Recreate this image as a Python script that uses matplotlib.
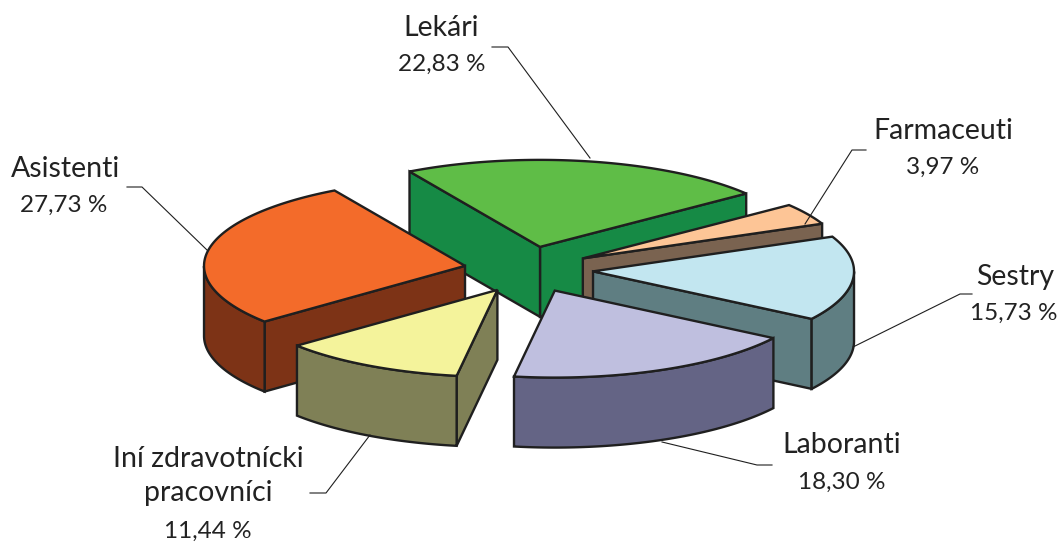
import numpy as np
import matplotlib
matplotlib.use("Agg")
import matplotlib.pyplot as plt
from matplotlib.patches import Polygon

# --- data ---
categories = ["Lekári", "Farmaceuti", "Sestry", "Laboranti", "Iní zdravotnícki\npracovníci", "Asistenti"]
values = [22.83, 3.97, 15.73, 18.30, 11.44, 27.73]
value_labels = ["22,83 %", "3,97 %", "15,73 %", "18,30 %", "11,44 %", "27,73 %"]

# --- style ---
top_colors = ["#5FBD47", "#FDC596", "#C2E6F0", "#BFBFDF", "#F4F39B", "#F36B2A"]
side_colors = ["#168A45", "#7A6350", "#5F7E82", "#646485", "#7F8056", "#7D3316"]
explode = [0.265, 0.25, 0.255, 0.265, 0.26, 0.24]
explode_turn = [0, 0, 0, 0, 4, 0]   # degrees the pull-out direction differs from the slice's middle
depth = 70
draw_order = [0, 1, 2, 5, 3, 4]
cx, cy, rx, ry = 526.7, 269.5, 261.0, 87.0
end_angle_first = 120.0   # the first slice ends here, slices run clockwise

name_pos = [(441, 28), (943, 131), (1015, 277), (842, 445), (208, 476), (66, 169)]
value_pos = [(442, 64), (943, 167), (1014, 313), (842, 482), (208, 531), (64, 205)]
leaders = [
    [(590, 158), (508, 47), (492, 47)],
    [(805, 224), (852, 150), (866, 150)],
    [(853, 347), (960, 294), (972, 294)],
    [(662, 442), (757, 465), (772, 465)],
    [(370, 435), (326, 493), (310, 493)],
    [(207, 250), (142, 187), (127, 187)],
]

plt.rcParams["font.family"] = ["Lato", "DejaVu Sans"]
fig = plt.figure(figsize=(10.59, 5.45), dpi=100)
ax = fig.add_axes([0, 0, 1, 1])
ax.set_xlim(0, 1059)
ax.set_ylim(545, 0)
ax.axis("off")

spans = np.array(values) / sum(values) * 360.0
ends = end_angle_first - np.concatenate([[0], np.cumsum(spans)[:-1]])
starts = ends - spans
mids = (starts + ends) / 2


def pt(apex, t):
    a = np.radians(t)
    return apex + np.column_stack([rx * np.cos(a), -ry * np.sin(a)])


kw = dict(edgecolor="#1f1f1f", linewidth=1.7, joinstyle="miter")
for i in draw_order:
    m = np.radians(mids[i] + explode_turn[i])
    apex = np.array([cx + explode[i] * rx * np.cos(m), cy - explode[i] * ry * np.sin(m)])
    d = np.array([0, depth])
    t1, t2 = starts[i], ends[i]
    if np.sin(np.radians(t1 - 90)) < 0:
        e = pt(apex, np.array([t1]))
        ax.add_patch(Polygon(np.vstack([apex, e, e + d, apex + d]), facecolor=side_colors[i], **kw))
    if np.sin(np.radians(t2 + 90)) < 0:
        e = pt(apex, np.array([t2]))
        ax.add_patch(Polygon(np.vstack([apex, e, e + d, apex + d]), facecolor=side_colors[i], **kw))
    ts = np.linspace(t1, t2, 200)
    front = ts[np.sin(np.radians(ts)) < 0]
    if len(front) > 1:
        arc = pt(apex, front)
        ax.add_patch(Polygon(np.vstack([arc, (arc + d)[::-1]]), facecolor=side_colors[i], **kw))
    ax.add_patch(Polygon(np.vstack([apex, pt(apex, ts)]), facecolor=top_colors[i], **kw))

for i, name in enumerate(categories):
    xs, ys = zip(*leaders[i])
    ax.plot(xs, ys, color="#1f1f1f", lw=0.8, zorder=5)
    ax.text(*name_pos[i], name, ha="center", va="center", fontsize=20.5,
            color="#222222", linespacing=1.35, zorder=6)
    ax.text(*value_pos[i], value_labels[i], ha="center", va="center", fontsize=17.5,
            color="#222222", zorder=6)

fig.savefig("out.png", dpi=100)
